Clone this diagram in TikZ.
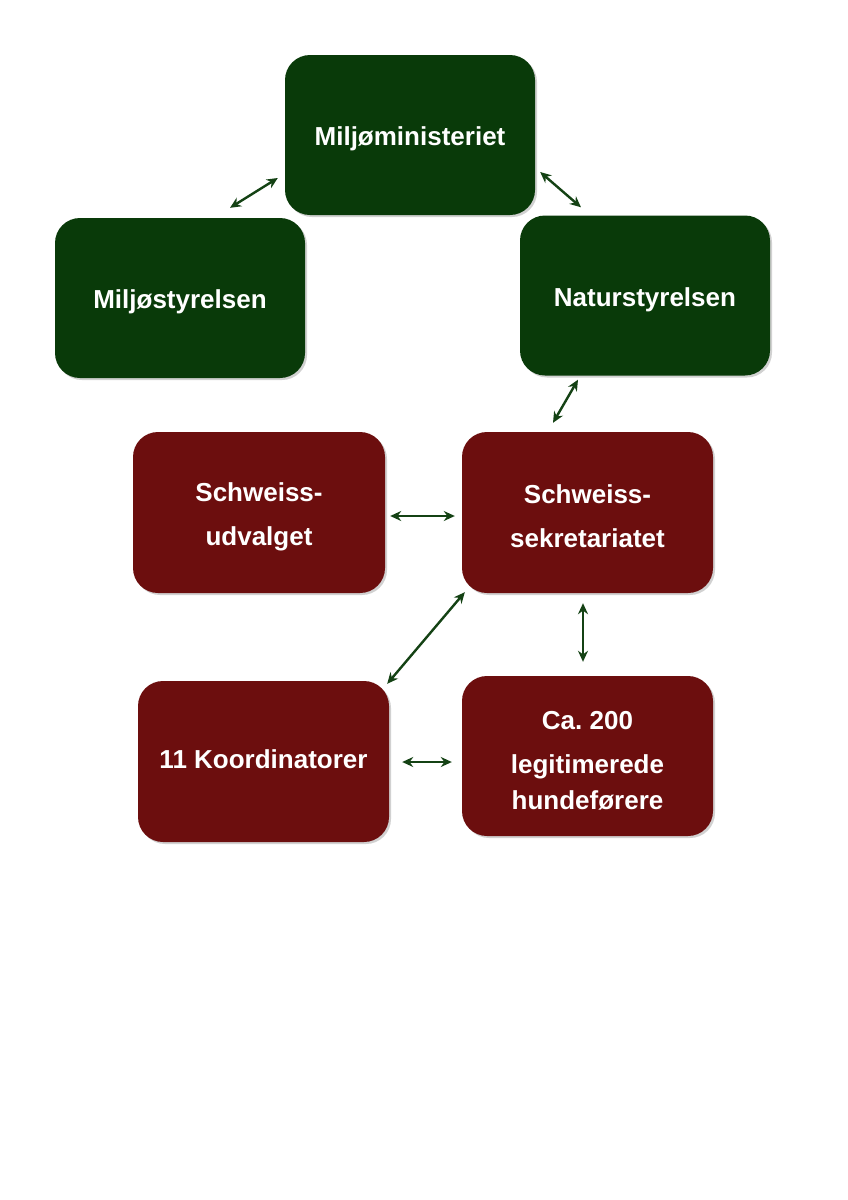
\documentclass[tikz,border=0pt]{standalone}
\usepackage{fontspec}
\setmainfont{Liberation Sans}
\usetikzlibrary{arrows.meta,shadows}
\definecolor{boxgreen}{RGB}{9,58,9}
\definecolor{boxred}{RGB}{108,14,14}
\definecolor{arrowgreen}{RGB}{20,66,20}
\newcommand{\dnstrut}{\rule{0pt}{27pt}}
\tikzset{
  orgbox/.style={rectangle, rounded corners=25pt, minimum width=250pt, minimum height=160pt,
    text=white, align=center, inner sep=0pt,
    font=\fontsize{26}{44}\selectfont\bfseries\frenchspacing,
    drop shadow={shadow xshift=2pt, shadow yshift=-2pt, opacity=0.18, fill=black}},
  greenbox/.style={orgbox, fill=boxgreen},
  redbox/.style={orgbox, fill=boxred},
  biarrow/.style={draw=arrowgreen, line width=2.4pt, {Stealth[length=11pt,width=10pt]}-{Stealth[length=11pt,width=10pt]}}
}
\begin{document}
\begin{tikzpicture}[x=1pt,y=-1pt]
\useasboundingbox[fill=white] (0,0) rectangle (848,1200);
\node[greenbox] (min) at (410,135) {\dnstrut Miljøministeriet};
\node[greenbox] (mst) at (180,298) {\dnstrut Miljøstyrelsen};
\node[greenbox] (nst) at (645,295.5) {\dnstrut Naturstyrelsen};
\node[redbox, minimum width=252pt, minimum height=161pt] (udv) at (259,512.5) {\dnstrut Schweiss-\\udvalget};
\node[redbox, minimum width=251pt, minimum height=161pt] (sek) at (587.5,512.5) {\dnstrut Schweiss-\\sekretariatet};
\node[redbox, minimum width=251pt, minimum height=161pt] (koo) at (263.5,761.5) {\raisebox{4pt}{11 Koordinatorer}};
\node[redbox, minimum width=251pt] (hun) at (587.5,756) {\dnstrut Ca. 200\\[0pt]legitimerede\\[-8pt]hundeførere};

\draw[biarrow] ([shift={(-7pt,-43pt)}]min.west) -- ([shift={(50pt,10pt)}]mst.north);
\draw[biarrow] ([shift={(5pt,-37pt)}]min.east) -- ([shift={(-64pt,8pt)}]nst.north);
\draw[biarrow] ([shift={(-67pt,-4pt)}]nst.south) -- ([shift={(-34.5pt,9pt)}]sek.north);
\draw[biarrow] ([shift={(5pt,-3.5pt)}]udv.east) -- ([shift={(-7pt,-3.5pt)}]sek.west);
\draw[biarrow] ([shift={(3pt,1pt)}]sek.south west) -- ([shift={(-2pt,-3pt)}]koo.north east);
\draw[biarrow] ([shift={(-4.5pt,-10pt)}]sek.south) -- ([shift={(-4.5pt,14pt)}]hun.north);
\draw[biarrow] ([shift={(13pt,-0.5pt)}]koo.east) -- ([shift={(-10pt,-6pt)}]hun.west);
\end{tikzpicture}
\end{document}
